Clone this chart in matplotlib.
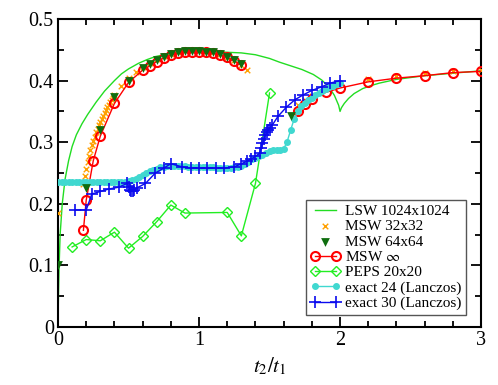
import numpy as np
import matplotlib
matplotlib.use('Agg')
import matplotlib.pyplot as plt
from matplotlib.ticker import MultipleLocator

plt.rcParams['font.family'] = ['Liberation Serif', 'DejaVu Serif']
plt.rcParams['mathtext.fontset'] = 'stix'

# LSW 1024x1024 (line only)
lsw_x = [0, 0.003, 0.008, 0.015, 0.03, 0.05, 0.075, 0.1, 0.13, 0.17, 0.21, 0.27, 0.33, 0.4,
         0.45, 0.5, 0.57, 0.63, 0.69, 0.75, 0.81, 0.9, 1.0, 1.1, 1.2, 1.3, 1.4, 1.5, 1.57,
         1.65, 1.73, 1.81, 1.87, 1.92, 1.96, 1.99, 2.0, 2.01, 2.03, 2.06, 2.1, 2.16, 2.22,
         2.28, 2.4, 2.5, 2.6, 2.7, 2.8, 2.9, 3.0]
lsw_y = [0, 0.05, 0.10, 0.15, 0.2, 0.24, 0.27, 0.293, 0.312, 0.33, 0.345, 0.365, 0.383, 0.4,
         0.411, 0.419, 0.428, 0.434, 0.439, 0.442, 0.444, 0.446, 0.447, 0.447, 0.446, 0.445,
         0.442, 0.436, 0.43, 0.424, 0.418, 0.41, 0.401, 0.39, 0.376, 0.36, 0.35, 0.356,
         0.363, 0.371, 0.379, 0.387, 0.392, 0.396, 0.402, 0.405, 0.408, 0.41, 0.412, 0.414,
         0.416]

# MSW 32x32
msw32_x = [0, 0.18, 0.19, 0.2, 0.21, 0.22, 0.23, 0.24, 0.25, 0.26, 0.27, 0.28, 0.29, 0.3, 0.31,
           0.32, 0.33, 0.34, 0.35, 0.36, 0.37, 0.38, 0.39, 0.4, 0.45, 0.5, 0.55, 0.6, 0.65, 0.7,
           0.75, 0.8, 0.85, 0.9, 0.95, 1.0, 1.05, 1.1, 1.15, 1.2, 1.25, 1.3, 1.34, 1.7, 1.75,
           1.8, 2.2, 2.4, 2.6, 2.8, 3.0]
msw32_y = [0.185, 0.232, 0.245, 0.257, 0.268, 0.278, 0.287, 0.295, 0.302, 0.309, 0.316, 0.322,
           0.328, 0.333, 0.338, 0.343, 0.348, 0.352, 0.357, 0.361, 0.365, 0.369, 0.372, 0.376,
           0.392, 0.404, 0.414, 0.422, 0.429, 0.435, 0.44, 0.444, 0.447, 0.449, 0.449, 0.449,
           0.448, 0.446, 0.443, 0.439, 0.433, 0.426, 0.418, 0.36, 0.368, 0.375, 0.403, 0.408,
           0.412, 0.416, 0.418]

# MSW 64x64
msw64_x = [0, 0.2, 0.3, 0.4, 0.5, 0.6, 0.65, 0.7, 0.75, 0.8, 0.85, 0.9, 0.95, 1.0, 1.05, 1.1,
           1.15, 1.2, 1.25, 1.3, 1.65]
msw64_y = [0.1, 0.225, 0.32, 0.373, 0.40, 0.42, 0.427, 0.434, 0.439, 0.443, 0.446, 0.448, 0.448,
           0.448, 0.447, 0.446, 0.443, 0.439, 0.433, 0.427, 0.343]

# MSW infinity
mswinf_x = [0.18, 0.2, 0.25, 0.3, 0.4, 0.5, 0.6, 0.65, 0.7, 0.75, 0.8, 0.85, 0.9, 0.95, 1.0,
            1.05, 1.1, 1.15, 1.2, 1.25, 1.3, np.nan, 1.7, 1.75, 1.8, 1.9, 2.0, 2.2, 2.4, 2.6,
            2.8, 3.0]
mswinf_y = [0.157, 0.206, 0.27, 0.31, 0.363, 0.397, 0.417, 0.424, 0.431, 0.437, 0.442, 0.445,
            0.447, 0.447, 0.447, 0.447, 0.445, 0.442, 0.438, 0.432, 0.425, np.nan, 0.35, 0.362,
            0.37, 0.381, 0.388, 0.398, 0.404, 0.408, 0.413, 0.415]

# PEPS 20x20
peps_x = [0.1, 0.2, 0.3, 0.4, 0.5, 0.6, 0.7, 0.8, 0.9, 1.2, 1.3, 1.4, 1.5]
peps_y = [0.13, 0.142, 0.14, 0.154, 0.128, 0.147, 0.171, 0.198, 0.185, 0.186, 0.148, 0.233, 0.38]

# exact 24 (Lanczos)
ex24_x = [0, 0.025, 0.05, 0.075, 0.1, 0.125, 0.15, 0.175, 0.2, 0.225, 0.25, 0.275, 0.3, 0.325,
          0.35, 0.375, 0.4, 0.425, 0.45, 0.475, 0.5, 0.525, 0.55, 0.575, 0.6, 0.625, 0.65,
          0.675, 0.7, 0.725, 0.75, 0.775, 0.8, 0.825, 0.85, 0.875, 0.9, 0.925, 0.95, 0.975,
          1.0, 1.025, 1.05, 1.075, 1.1, 1.125, 1.15, 1.175, 1.2, 1.225, 1.25, 1.275, 1.3,
          1.325, 1.35, 1.375, 1.4, 1.425, 1.45, 1.475, 1.5, 1.525, 1.55, 1.575, 1.6, 1.625,
          1.65, 1.675, 1.7, 1.725, 1.75, 1.775, 1.8, 1.825, 1.85, 1.875, 1.9, 1.925, 1.95,
          1.975, 2.0]
ex24_y = [0.236, 0.236, 0.236, 0.236, 0.236, 0.236, 0.236, 0.236, 0.236, 0.236, 0.236, 0.236,
          0.236, 0.236, 0.236, 0.236, 0.236, 0.236, 0.236, 0.236, 0.237, 0.238, 0.241, 0.244,
          0.247, 0.25, 0.253, 0.255, 0.257, 0.259, 0.26, 0.261, 0.262, 0.262, 0.262, 0.261,
          0.261, 0.26, 0.26, 0.26, 0.26, 0.26, 0.259, 0.259, 0.259, 0.258, 0.258, 0.258,
          0.258, 0.258, 0.259, 0.26, 0.262, 0.264, 0.268, 0.272, 0.275, 0.278, 0.28, 0.283,
          0.285, 0.287, 0.288, 0.288, 0.289, 0.301, 0.32, 0.338, 0.35, 0.358, 0.364, 0.368,
          0.372, 0.376, 0.38, 0.383, 0.386, 0.389, 0.391, 0.394, 0.396]

# exact 30 (Lanczos)
ex30_x = [0.12, 0.2, 0.24, 0.3, 0.36, 0.43, 0.49, 0.5, 0.51, 0.52, 0.53, 0.54, 0.56, 0.62,
          0.69, 0.75, 0.8, 0.88, 0.94, 1.0, 1.06, 1.12, 1.18, 1.25, 1.3, 1.34, 1.37, 1.4,
          1.43, 1.44, 1.45, 1.46, 1.47, 1.48, 1.49, 1.5, 1.52, 1.56, 1.62, 1.68, 1.74, 1.8,
          1.87, 1.93, 2.0]
ex30_y = [0.19, 0.19, 0.216, 0.22, 0.224, 0.227, 0.233, 0.228, 0.223, 0.22, 0.221, 0.223,
          0.226, 0.233, 0.25, 0.258, 0.265, 0.26, 0.258, 0.258, 0.258, 0.258, 0.258, 0.26,
          0.265, 0.269, 0.273, 0.277, 0.282, 0.29, 0.298, 0.305, 0.311, 0.316, 0.32, 0.323,
          0.328, 0.342, 0.357, 0.369, 0.377, 0.384, 0.39, 0.396, 0.4]

fig = plt.figure(figsize=(4.98, 3.85), dpi=100)
ax = fig.add_axes([0.1165, 0.1506, 0.8495, 0.80])

ax.plot(lsw_x, lsw_y, color='#22dd22', lw=1.0, label='LSW 1024x1024')
ax.scatter(msw32_x, msw32_y, marker='x', color='#ffa000', s=16, lw=1.0,
           label='MSW 32x32', zorder=3)
ax.scatter(msw64_x, msw64_y, marker='v', color='#0f6e0f', s=40, lw=0,
           label='MSW 64x64', zorder=4)
ax.plot(mswinf_x, mswinf_y, color='red', lw=1.0, marker='o', ms=6.5, mfc='none',
        mew=1.5, label=r'MSW $\infty$', zorder=3)
ax.plot(peps_x, peps_y, color='#22ee22', lw=1.0, marker='D', ms=5, mfc='none',
        mew=1.0, label='PEPS 20x20', zorder=2)
ax.plot(ex24_x, ex24_y, color='#40d8d0', lw=1.0, marker='o', ms=4,
        label='exact 24 (Lanczos)', zorder=3)
ax.plot(ex30_x, ex30_y, color='#0a0aee', lw=1.0, marker='+', ms=8, mew=1.2,
        label='exact 30 (Lanczos)', zorder=3)

ax.set_xlim(0, 3)
ax.set_ylim(0, 0.5)
ax.xaxis.set_minor_locator(MultipleLocator(0.2))
ax.yaxis.set_minor_locator(MultipleLocator(0.05))
ax.set_xticks([0, 1, 2, 3], ['0', '1', '2', '3'])
ax.set_yticks([0, 0.1, 0.2, 0.3, 0.4, 0.5], ['0', '0.1', '0.2', '0.3', '0.4', '0.5'])
ax.tick_params(which='both', direction='in', top=True, right=True, width=1.3,
               labelsize=14.5)
ax.tick_params(which='major', length=7, pad=3)
ax.tick_params(which='minor', length=4)
for s in ax.spines.values():
    s.set_linewidth(1.5)

ax.set_xlabel(r'$t_2/t_1$', fontsize=15, labelpad=4)

leg = ax.legend(loc='lower right', bbox_to_anchor=(0.965, 0.04), fontsize=11,
                numpoints=2, scatterpoints=1, handlelength=2.0, handletextpad=0.3,
                labelspacing=0.1, borderpad=0.3, borderaxespad=0, fancybox=False,
                framealpha=1)
leg.get_frame().set_edgecolor('#555555')
leg.get_frame().set_linewidth(1.0)

fig.savefig('out.png', dpi=100)
